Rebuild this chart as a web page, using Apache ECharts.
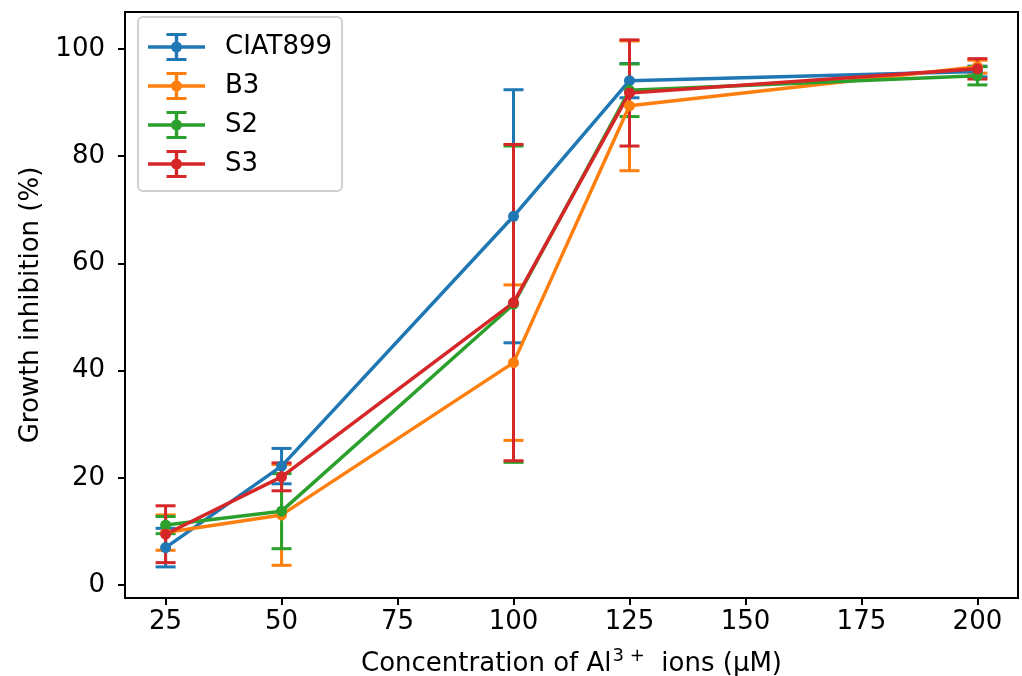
<!DOCTYPE html>
<html>
<head>
<meta charset="utf-8">
<script src="https://cdn.jsdelivr.net/npm/echarts@6/dist/echarts.min.js"></script>
<style>
  html, body { margin: 0; padding: 0; background: #fff; }
  #chart { width: 1022px; height: 676px; }
</style>
</head>
<body>
<div id="chart"></div>
<script>
// Al3+ concentration (uM)
var concentrations = [25, 50, 100, 125, 200];

// growth inhibition (%) and error bar half-lengths
var ciat899 = [7.0, 22.2, 68.8, 94.1, 95.8];
var ciat899Err = [3.6, 3.3, 23.6, 3.2, 1.0];
var b3 = [9.8, 13.1, 41.5, 89.4, 96.7];
var b3Err = [3.3, 9.4, 14.5, 12.1, 1.2];
var s2 = [11.2, 13.8, 52.4, 92.3, 95.0];
var s2Err = [1.6, 7.0, 29.5, 4.9, 1.7];
var s3 = [9.5, 20.2, 52.7, 91.8, 96.3];
var s3Err = [5.3, 2.6, 29.5, 9.9, 1.9];

var xTicks = [25, 50, 75, 100, 125, 150, 175, 200];
var yTicks = [0, 20, 40, 60, 80, 100];

var names = ['CIAT899', 'B3', 'S2', 'S3'];
var colors = ['#1f77b4', '#ff7f0e', '#2ca02c', '#d62728'];
var values = [ciat899, b3, s2, s3];
var errors = [ciat899Err, b3Err, s2Err, s3Err];

var FONT = 'DejaVu Sans';
var FS = 26;
var CAP = 10;

// legend glyph: errorbar with dot, 57 x 28
var errIcon = 'path://M0,12.3 H57 V15.7 H0 Z M26.8,0 H30.2 V28 H26.8 Z M18.5,0 H38.5 V3 H18.5 Z M18.5,25 H38.5 V28 H18.5 Z M34,14 A5.5,5.5 0 1,1 23,14 A5.5,5.5 0 1,1 34,14 Z';

function errRender(color) {
  return function (params, api) {
    var x = api.value(0), y = api.value(1), e = api.value(2);
    var top = api.coord([x, y + e]);
    var bot = api.coord([x, y - e]);
    var st = { stroke: color, lineWidth: 3 };
    return {
      type: 'group',
      children: [
        { type: 'line', shape: { x1: top[0], y1: top[1], x2: bot[0], y2: bot[1] }, style: st },
        { type: 'line', shape: { x1: top[0] - CAP, y1: top[1], x2: top[0] + CAP, y2: top[1] }, style: st },
        { type: 'line', shape: { x1: bot[0] - CAP, y1: bot[1], x2: bot[0] + CAP, y2: bot[1] }, style: st }
      ]
    };
  };
}

var series = [];
names.forEach(function (n, i) {
  series.push({
    name: n + ' err',
    type: 'custom',
    z: 2,
    renderItem: errRender(colors[i]),
    data: concentrations.map(function (c, k) { return [c, values[i][k], errors[i][k]]; }),
    silent: true
  });
});
names.forEach(function (n, i) {
  series.push({
    name: n,
    type: 'line',
    z: 3,
    color: colors[i],
    symbol: 'circle',
    symbolSize: 11,
    lineStyle: { width: 3.5 },
    data: concentrations.map(function (c, k) { return [c, values[i][k]]; })
  });
});

var chart = echarts.init(document.getElementById('chart'));
chart.setOption({
  animation: false,
  backgroundColor: '#fff',
  textStyle: { fontFamily: FONT },
  grid: {
    left: 125, right: 4, top: 12, bottom: 78,
    outerBoundsMode: 'none',
    show: true, borderColor: '#000', borderWidth: 2, backgroundColor: 'transparent'
  },
  legend: {
    orient: 'vertical',
    left: 138, top: 17,
    padding: [16, 10, 13, 10],
    itemWidth: 57, itemHeight: 28, itemGap: 11,
    backgroundColor: 'rgba(255,255,255,0.8)',
    borderColor: '#d0d0d0', borderWidth: 2, borderRadius: 5,
    textStyle: { fontFamily: FONT, fontSize: FS, color: '#000', padding: [0, 0, 0, 15] },
    data: names.map(function (n) { return { name: n, icon: errIcon }; })
  },
  xAxis: {
    type: 'value',
    min: 16.25, max: 208.75,
    splitLine: { show: false },
    axisLine: { onZero: false, lineStyle: { color: '#000', width: 2 } },
    axisTick: { show: true, length: 7, customValues: xTicks, lineStyle: { color: '#000', width: 2 } },
    axisLabel: { customValues: xTicks, margin: 11, fontSize: FS, color: '#000', fontFamily: FONT },
    name: '{n|Concentration of Al}{s|3 +}{n|  ions (μM)}',
    nameLocation: 'middle',
    nameGap: 49,
    nameTextStyle: {
      fontFamily: FONT, fontSize: FS, color: '#000',
      rich: {
        n: { fontFamily: FONT, fontSize: FS, color: '#000', lineHeight: 30, verticalAlign: 'bottom' },
        s: { fontFamily: FONT, fontSize: 18, color: '#000', lineHeight: 30, verticalAlign: 'top', padding: [0, 0, 0, 1] }
      }
    }
  },
  yAxis: {
    type: 'value',
    min: -2.4, max: 106.9,
    splitLine: { show: false },
    axisLine: { show: true, onZero: false, lineStyle: { color: '#000', width: 2 } },
    axisTick: { show: true, length: 7, customValues: yTicks, lineStyle: { color: '#000', width: 2 } },
    axisLabel: { customValues: yTicks, margin: 20, fontSize: FS, color: '#000', fontFamily: FONT },
    name: 'Growth inhibition (%)',
    nameLocation: 'middle',
    nameGap: 78,
    nameTextStyle: { fontFamily: FONT, fontSize: FS, color: '#000' }
  },
  series: series
});
</script>
</body>
</html>
